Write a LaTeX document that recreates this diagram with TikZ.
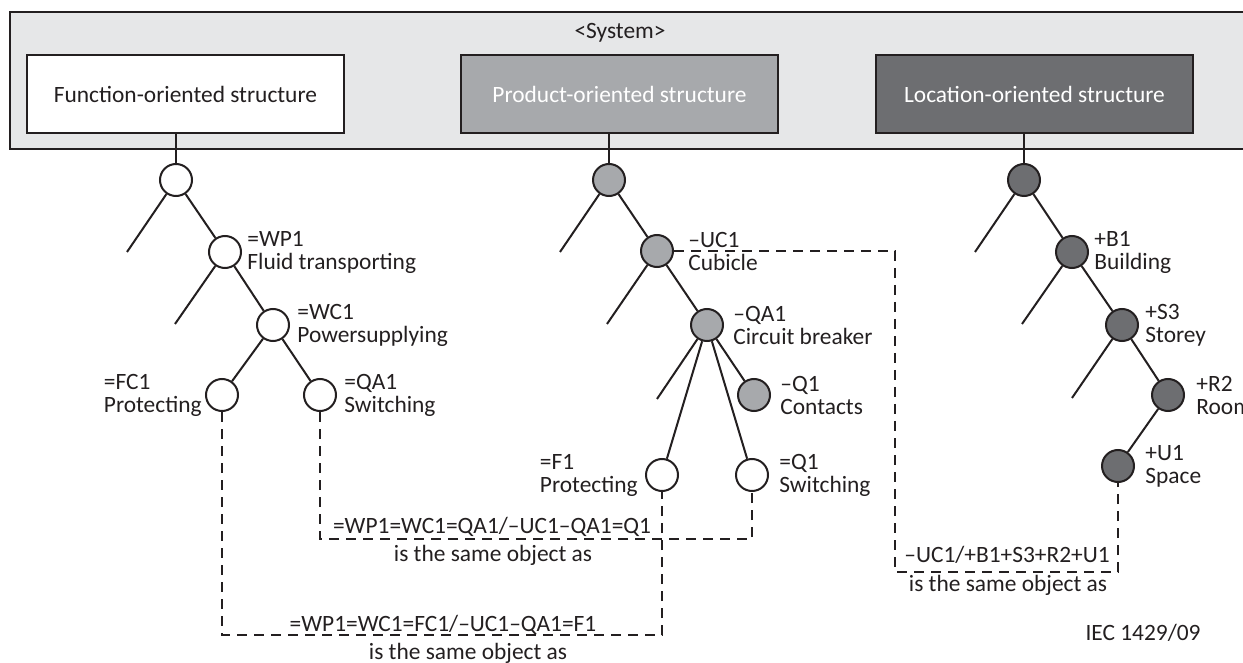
\documentclass[tikz,border=0pt]{standalone}
\usepackage{fontspec}
\setmainfont{Carlito}
\usetikzlibrary{positioning}

\definecolor{sysgray}{HTML}{E6E7E8}
\definecolor{prodgray}{HTML}{A7A9AC}
\definecolor{locgray}{HTML}{6D6E71}
\definecolor{ink}{HTML}{231F20}

\tikzset{
  treeline/.style={draw=ink, line width=1pt},
  knot/.style={circle, draw=ink, line width=1pt, minimum size=16pt, inner sep=0pt},
  fknot/.style={knot, fill=white},
  pknot/.style={knot, fill=prodgray},
  lknot/.style={knot, fill=locgray},
  structbox/.style={rectangle, draw=ink, line width=1pt, minimum width=158.5pt,
    minimum height=39pt, font=\fontsize{11.7}{14}\selectfont},
  desig/.style={align=left, inner sep=0pt, font=\fontsize{11.7}{11.5}\selectfont},
  sameas/.style={draw=ink, line width=1pt, dash pattern=on 5pt off 3.5pt},
  plaintext/.style={inner sep=0pt, font=\fontsize{11.7}{14}\selectfont}
}

\begin{document}
\begin{tikzpicture}[x=0.5pt, y=-0.5pt, text=ink]
  \useasboundingbox (0,0) rectangle (1243,663);
  % the system frame with its three structures
  \draw[fill=sysgray, draw=ink, line width=1pt] (10,12) rectangle (1262,149);
  \node[plaintext] (sys) at (620,33) {<System>};
  \node[structbox, fill=white] (fbox) at (185.5,94) {Function-oriented structure};
  \node[structbox, fill=prodgray, text=white] (pbox) at (619.5,94) {Product-oriented structure};
  \node[structbox, fill=locgray, text=white] (lbox) at (1034.5,94) {Location-oriented structure};

  % function-oriented tree
  \node[fknot] (f0) at (176,180) {};
  \node[fknot] (wp1) at (225,252) {};
  \node[fknot] (wc1) at (273,325) {};
  \node[fknot] (fc1) at (222,395) {};
  \node[fknot] (qa1) at (320,395) {};
  \coordinate (fs0) at (127,252);% open branches
  \coordinate (fs1) at (175,324);

  % product-oriented tree
  \node[pknot] (p0) at (609,180) {};
  \node[pknot] (uc1) at (657,251) {};
  \node[pknot] (pqa1) at (707,325) {};
  \node[pknot] (pq1) at (754,395) {};
  \node[fknot] (f1) at (662,475) {};
  \node[fknot] (q1) at (752,475) {};
  \coordinate (ps0) at (560,252);
  \coordinate (ps1) at (607,324);
  \coordinate (ps2) at (657,399);

  % location-oriented tree
  \node[lknot] (l0) at (1024,180) {};
  \node[lknot] (b1) at (1072,252) {};
  \node[lknot] (s3) at (1122,325) {};
  \node[lknot] (r2) at (1168,395) {};
  \node[lknot] (u1) at (1118,466) {};
  \coordinate (ls0) at (975,252);
  \coordinate (ls1) at (1022,324);
  \coordinate (ls2) at (1072,398);

  % structure boxes down to the roots
  \foreach \b/\r in {fbox/f0, pbox/p0, lbox/l0}{%
    \draw[treeline] (\b.south -| \r) -- (\r);
  }
  % branches, each one from a knot to the next
  \foreach \a/\z in {f0/fs0, f0/wp1, wp1/fs1, wp1/wc1, wc1/fc1, wc1/qa1,
                     p0/ps0, p0/uc1, uc1/ps1, uc1/pqa1, pqa1/ps2, pqa1/f1, pqa1/q1, pqa1/pq1,
                     l0/ls0, l0/b1, b1/ls1, b1/s3, s3/ls2, s3/r2, r2/u1}{%
    \draw[treeline] (\a) -- (\z);
  }

  % designations
  \node[desig, right=2.5pt of wp1] (wp1t) {=WP1\\Fluid transporting};
  \node[desig, right=3.5pt of wc1] (wc1t) {=WC1\\Powersupplying};
  \node[desig, left=1.5pt of fc1] (fc1t) {=FC1\\Protecting};
  \node[desig, right=3.5pt of qa1] (qa1t) {=QA1\\Switching};
  \node[desig, right=7pt of uc1] (uc1t) {–UC1\\Cubicle};
  \node[desig, right=4.5pt of pqa1] (pqa1t) {–QA1\\Circuit breaker};
  \node[desig, right=4.5pt of pq1] (pq1t) {–Q1\\Contacts};
  \node[desig, left=3.5pt of f1] (f1t) {=F1\\Protecting};
  \node[desig, right=5pt of q1] (q1t) {=Q1\\Switching};
  \node[desig, right=2.5pt of b1] (b1t) {+B1\\Building};
  \node[desig, right=3pt of s3] (s3t) {+S3\\Storey};
  \node[desig, right=5.5pt of r2] (r2t) {+R2\\Room};
  \node[desig, right=5pt of u1] (u1t) {+U1\\Space};

  % same object links
  \coordinate (d1) at (0,635);
  \coordinate (d2) at (0,539);
  \coordinate (d3) at (0,572);
  \coordinate (d3r) at (895,0);
  \draw[sameas] (fc1) -- (fc1 |- d1) -- (f1 |- d1) -- (f1);
  \draw[sameas] (qa1) -- (qa1 |- d2) -- (q1 |- d2) -- (q1);
  \draw[sameas] (uc1) -- (uc1 -| d3r) -- (d3r |- d3) -- (u1 |- d3) -- (u1);

  \node[plaintext] (same1) at (443,625) {=WP1=WC1=FC1/–UC1–QA1=F1};
  \node[plaintext] (same1b) at (468,653) {is the same object as};
  \node[plaintext] (same2) at (492,527) {=WP1=WC1=QA1/–UC1–QA1=Q1};
  \node[plaintext] (same2b) at (493,555) {is the same object as};
  \node[plaintext] (same3) at (1007,555) {–UC1/+B1+S3+R2+U1};
  \node[plaintext] (same3b) at (1008,585) {is the same object as};
  \node[plaintext] (iec) at (1143,633) {IEC 1429/09};
\end{tikzpicture}
\end{document}
